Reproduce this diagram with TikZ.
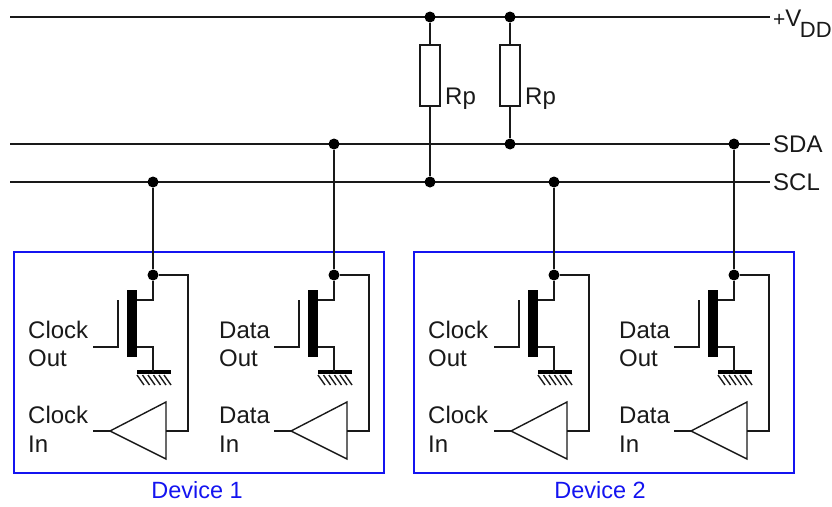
\documentclass[tikz,border=0pt]{standalone}
\usepackage{fontspec}
\setmainfont{Liberation Sans}
\usepackage{tikz}
\definecolor{devblue}{RGB}{20,20,240}
\definecolor{wirecol}{RGB}{25,25,25}
\tikzset{%
  wire/.style = {draw=wirecol,line width=1.8pt},
  thin wire/.style = {draw=wirecol,line width=1.4pt},
  dot/.style = {circle,fill=black,inner sep=0pt,minimum size=11pt},
  res/.style = {rectangle,draw=wirecol,line width=1.8pt,fill=white,inner sep=0pt,
        minimum width=20pt,minimum height=61pt},
  devbox/.style = {rectangle,draw=devblue,line width=1.6pt,inner sep=0pt},
  lbl/.style = {anchor=base west,inner sep=0pt,font=\fontsize{24}{24}\selectfont,text=wirecol},
  devlbl/.style = {anchor=base,inner sep=0pt,font=\fontsize{23.5}{23.5}\selectfont,text=devblue},
  rail/.style = {anchor=west,inner sep=3pt,font=\fontsize{24}{24}\selectfont,text=wirecol}
}
\begin{document}
\begin{tikzpicture}[x=1pt,y=-1pt]
                \useasboundingbox (0,0) rectangle (832,506);
                % device boxes
                \node[devbox,minimum width=370pt,minimum height=221pt] (dev1) at (199,362.5) {};
                \node[devbox,minimum width=380pt,minimum height=221pt] (dev2) at (604,362.5) {};
                \node[devlbl] (dev1l) at (197,498) {Device 1};
                \node[devlbl] (dev2l) at (600,498) {Device 2};
                % rails
                \coordinate (vddw) at (10,17);
                \coordinate (sdaw) at (10,144);
                \coordinate (sclw) at (10,182);
                \node[rail,anchor=base west] (vdd) at (770,26) {{\fontsize{21}{21}\selectfont+}V\kern-1.5pt\raisebox{-11pt}{\fontsize{22}{22}\selectfont DD}};
                \node[rail] (sda) at (770,144) {SDA};
                \node[rail] (scl) at (770,182) {SCL};
                \path[wire] (vddw) -- (vdd.west |- vddw)
                            (sdaw) -- (sda.west)
                            (sclw) -- (scl.west);
                % pull-ups
                \node[dot] (vt1) at (430,17) {};
                \node[dot] (vt2) at (510,17) {};
                \node[dot] (pu1) at (430,182) {};
                \node[dot] (pu2) at (510,144) {};
                \node[res] (r1) at (430,75.5) {};
                \node[res] (r2) at (510,75.5) {};
                \node[lbl] (r1l) at (445,104) {Rp};
                \node[lbl] (r2l) at (525,104) {Rp};
                \path[wire] (vt1) -- (r1) (r1) -- (pu1)
                            (vt2) -- (r2) (r2) -- (pu2);
                % one stage for each line of each device
                \foreach \s/\x/\y/\t/\o in {a/153/182/Clock/-125,b/334/144/Data/-115,c/554/182/Clock/-126,d/734/144/Data/-115}{
                    \begin{scope}[shift={(\x,0)}]
                        \node[dot] (top\s) at (0,\y) {};
                        \node[dot] (j\s) at (0,275) {};
                        \coordinate (dr\s) at (0,300);
                        \coordinate (so\s) at (0,347);
                        \coordinate (gnd\s) at (0,372);
                        \coordinate (fb\s) at (35,275);
                        \coordinate (fc\s) at (35,431);
                        \coordinate (in\s) at (-60,431);
                        \coordinate (tip\s) at (-43,431);
                        \coordinate (bt\s) at (13,402);
                        \coordinate (bb\s) at (13,459);
                        \coordinate (bm\s) at (13,431);
                        \coordinate (gt\s) at (-35,300);
                        \coordinate (gb\s) at (-35,347);
                        \coordinate (go\s) at (-60,347);
                        \node[rectangle,fill=black,inner sep=0pt,minimum width=10pt,minimum height=67pt] (bar\s) at (-21,323.5) {};
                        \node[rectangle,fill=black,inner sep=0pt,minimum width=34pt,minimum height=3.5pt] (gb\s x) at (1,372) {};
                        \node[lbl] (lo\s) at (\o,338) {\t};
                        \node[lbl] (lp\s) at (\o,366) {Out};
                        \node[lbl] (li\s) at (\o,423) {\t};
                        \node[lbl] (lq\s) at (\o,452) {In};
                        \path[wire] (top\s) -- (j\s) (j\s) -- (dr\s) -- (bar\s.east |- dr\s)
                                    (bar\s.east |- so\s) -- (so\s) -- (gnd\s)
                                    (j\s) -- (fb\s) -- (fc\s) -- (bm\s)
                                    (go\s) -- (gb\s) -- (gt\s)
                                    (in\s) -- (tip\s);
                        \path[thin wire] (tip\s) -- (bt\s) -- (bb\s) -- cycle;
                        \foreach \h in {-16,-10.5,-5,0.5,6,11}{
                            \draw[thin wire] ([xshift=\h pt,yshift=-3pt]gnd\s) -- ++(7,10);
                        }
                    \end{scope}
                }
            \end{tikzpicture}
\end{document}
